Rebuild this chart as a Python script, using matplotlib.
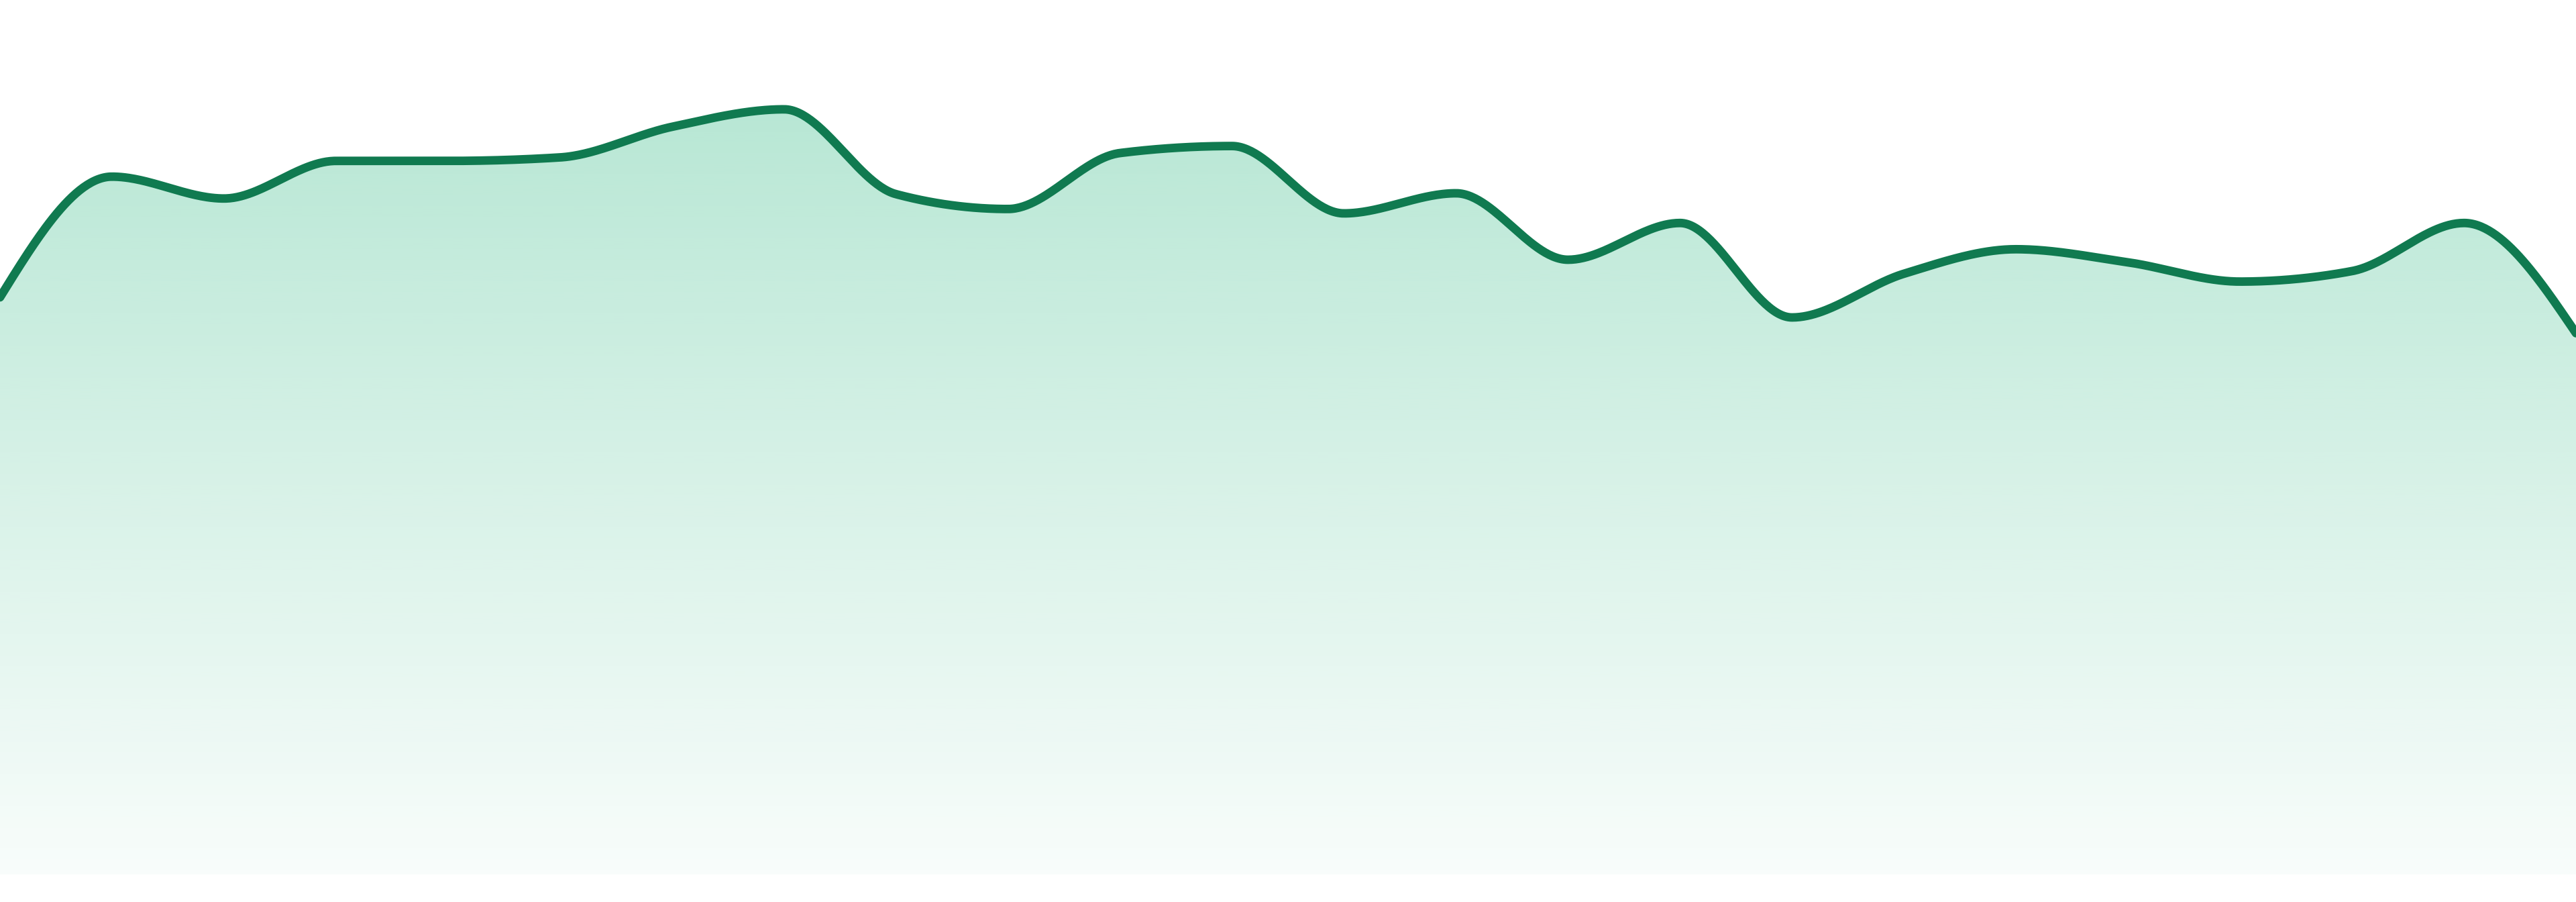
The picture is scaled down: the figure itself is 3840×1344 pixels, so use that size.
import numpy as np
import matplotlib
matplotlib.use("Agg")
import matplotlib.pyplot as plt
from matplotlib.colors import to_rgb

# ---- data ----
points = list(range(24))
values = [66.0, 79.8, 77.3, 81.6, 81.6, 82.0, 85.5, 87.5, 77.8, 76.1,
          82.5, 83.3, 75.6, 77.9, 70.3, 74.5, 63.7, 68.7, 71.5, 70.0,
          67.8, 69.0, 74.5, 61.9]

LINE_COLOR = "#107A50"
FILL_BASE = "#19B276"


def monotone_x(x, y, n=60):
    """d3.curveMonotoneX style rendering of the line through the points."""
    x = np.asarray(x, float)
    y = np.asarray(y, float)
    m = len(x)
    t = np.zeros(m)
    for i in range(1, m - 1):
        h0 = x[i] - x[i - 1]
        h1 = x[i + 1] - x[i]
        s0 = (y[i] - y[i - 1]) / h0
        s1 = (y[i + 1] - y[i]) / h1
        p = (s0 * h1 + s1 * h0) / (h0 + h1)
        t[i] = (np.sign(s0) + np.sign(s1)) * min(abs(s0), abs(s1), 0.5 * abs(p))
    h = x[1] - x[0]
    t[0] = (3 * (y[1] - y[0]) / h - t[1]) / 2
    h = x[-1] - x[-2]
    t[-1] = (3 * (y[-1] - y[-2]) / h - t[-2]) / 2
    xs, ys = [], []
    u = np.linspace(0, 1, n)
    for i in range(m - 1):
        x0, y0, x1, y1 = x[i], y[i], x[i + 1], y[i + 1]
        dx = (x1 - x0) / 3
        P = np.array([[x0, y0], [x0 + dx, y0 + dx * t[i]],
                      [x1 - dx, y1 - dx * t[i + 1]], [x1, y1]])
        b = ((1 - u) ** 3)[:, None] * P[0] + (3 * (1 - u) ** 2 * u)[:, None] * P[1] \
            + (3 * (1 - u) * u ** 2)[:, None] * P[2] + (u ** 3)[:, None] * P[3]
        if i > 0:
            b = b[1:]
        xs.append(b[:, 0])
        ys.append(b[:, 1])
    return np.concatenate(xs), np.concatenate(ys)


fig = plt.figure(figsize=(38.4, 13.44), dpi=100)
fig.patch.set_facecolor("white")
ax = fig.add_axes([0, 41 / 1344, 1, 1303 / 1344])
ax.set_xlim(points[0], points[-1])
ax.set_ylim(0, 100)
ax.axis("off")

xs, ys = monotone_x(points, values)

poly = ax.fill_between(xs, ys, 0, facecolor="none", edgecolor="none")

ymax = max(values)
rgb = np.array(to_rgb(FILL_BASE))
nrow = 512
alpha = np.linspace(0.31, 0.03, nrow)
grad = np.ones((nrow, 1, 4))
grad[:, 0, :3] = rgb
grad[:, 0, 3] = alpha
im = ax.imshow(grad, extent=[points[0], points[-1], 0, ymax], origin="upper",
               aspect="auto", interpolation="bilinear", zorder=1)
im.set_clip_path(poly.get_paths()[0], transform=ax.transData)

ax.plot(xs, ys, color=LINE_COLOR, lw=9.2, solid_capstyle="round",
        solid_joinstyle="round", zorder=3)

ax.set_xlim(points[0], points[-1])
ax.set_ylim(0, 100)

fig.savefig("out.png", dpi=100, facecolor="white")
